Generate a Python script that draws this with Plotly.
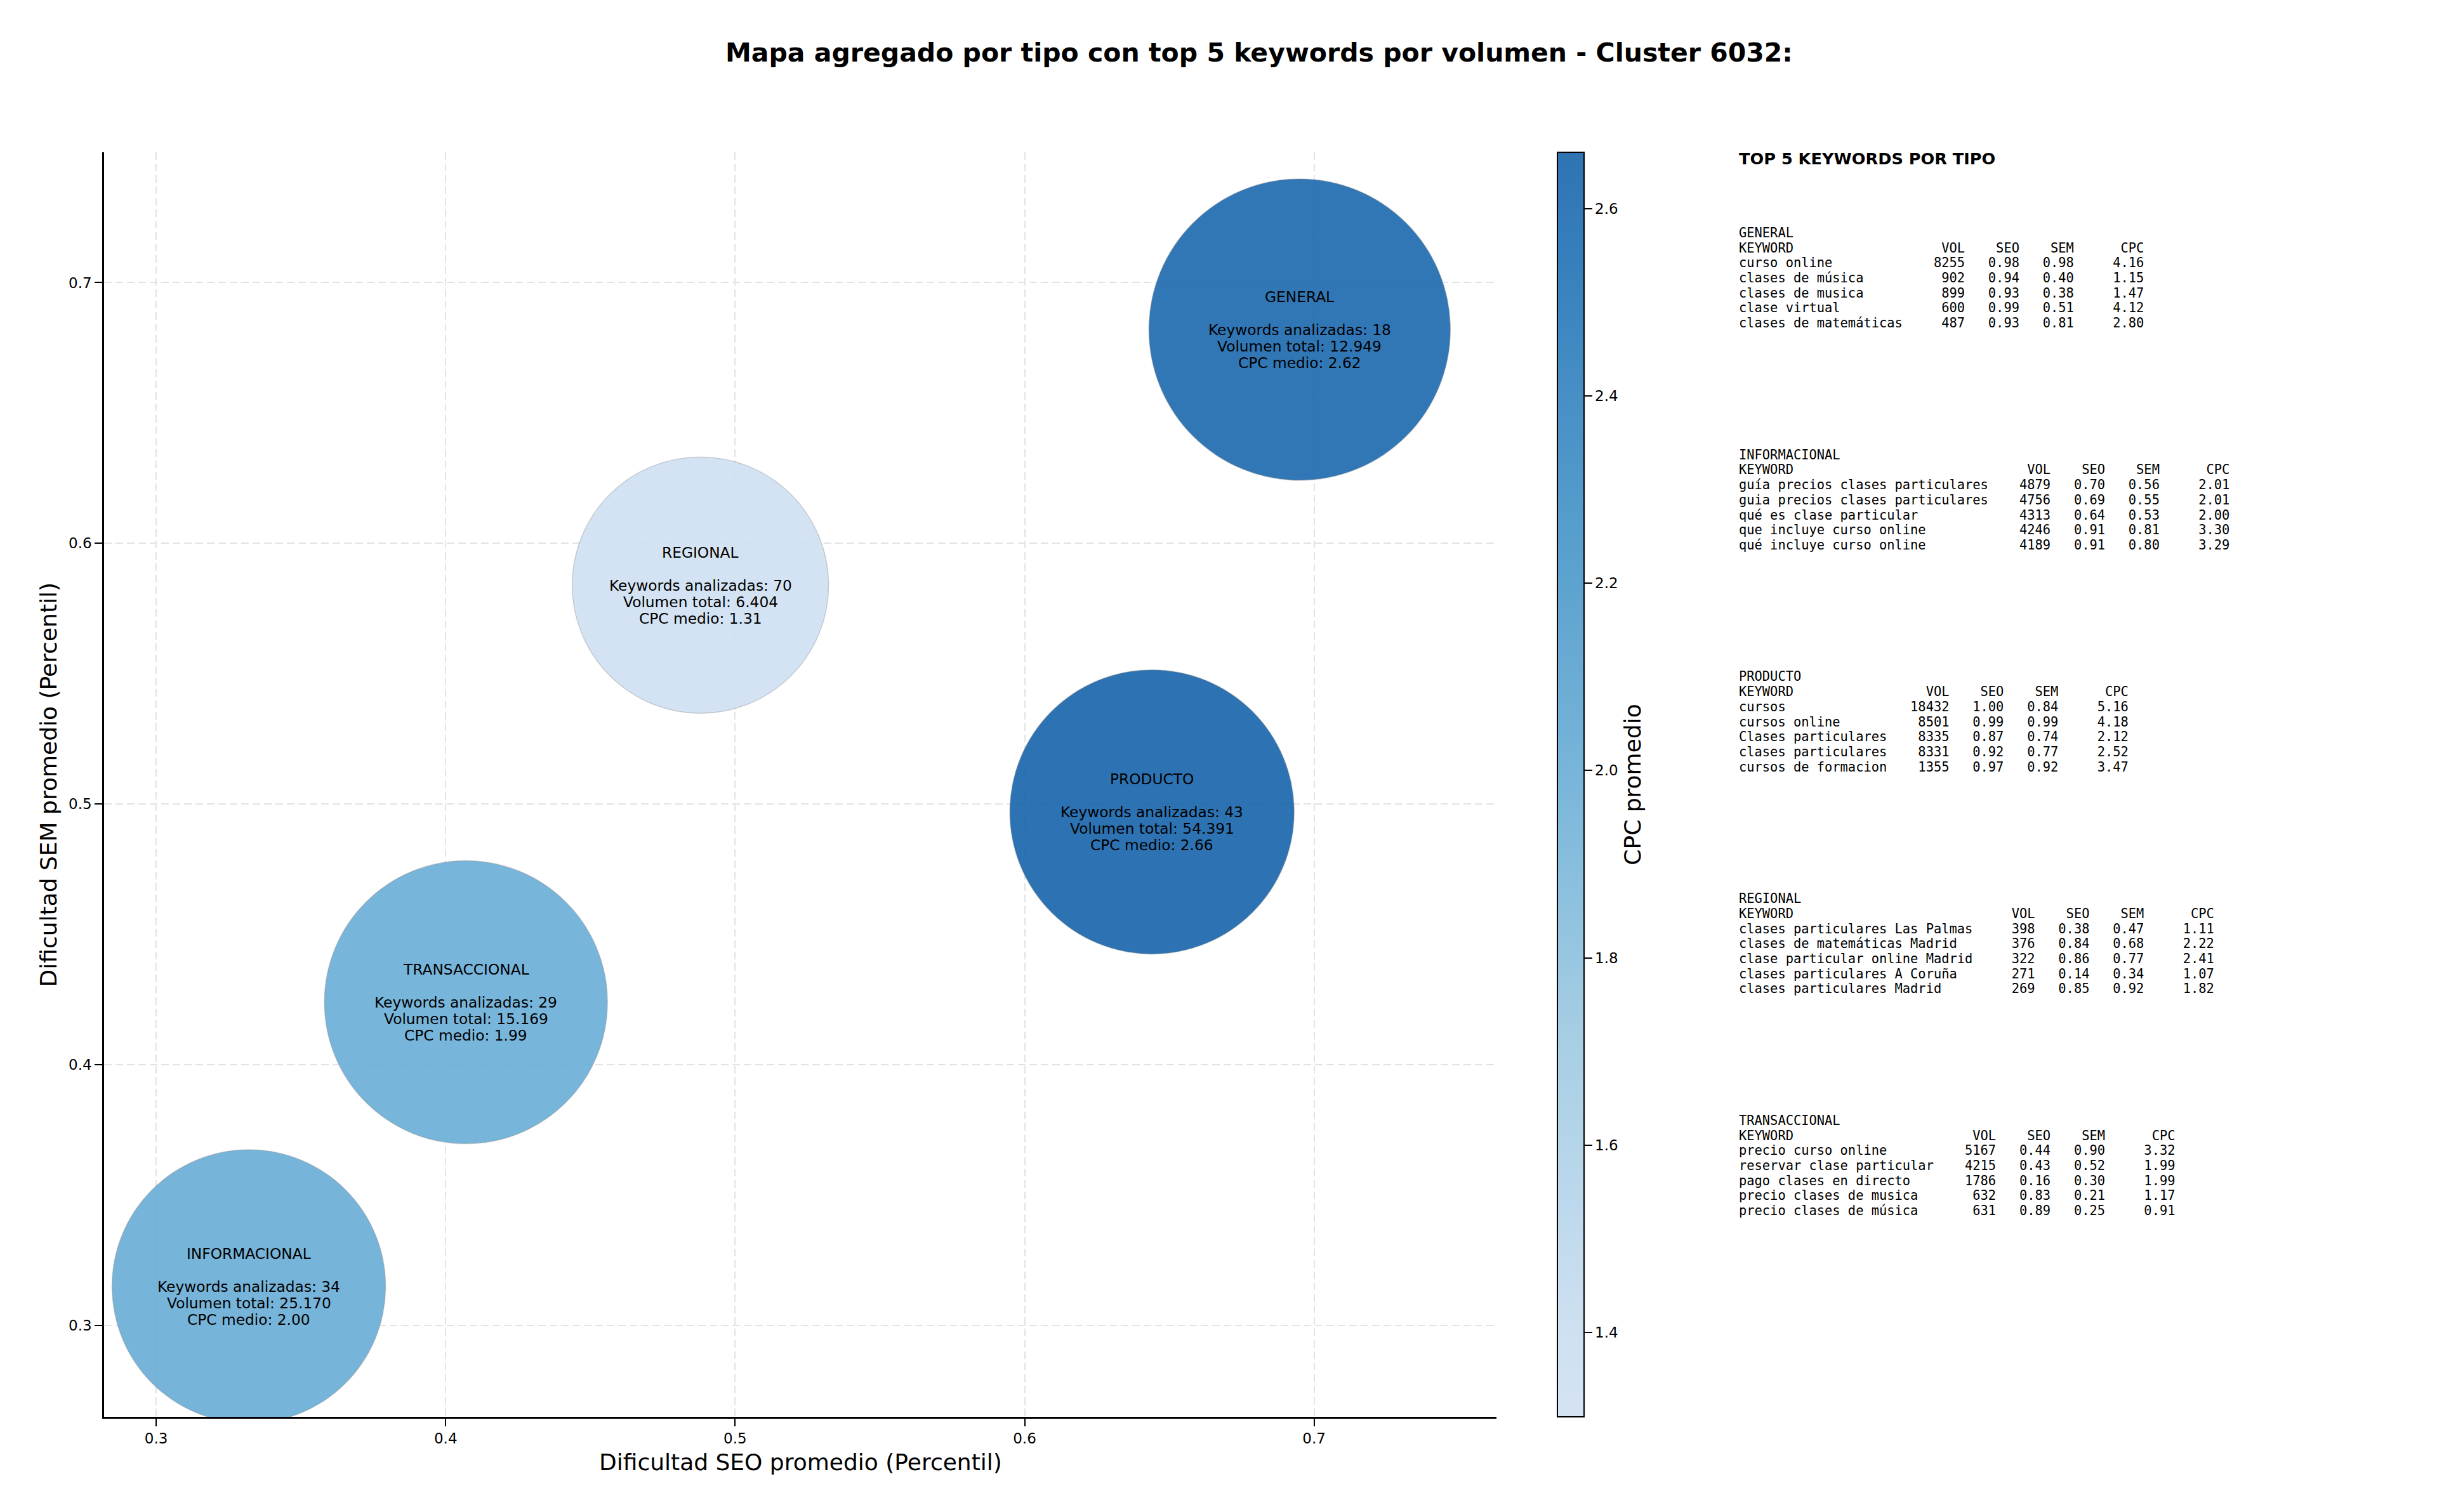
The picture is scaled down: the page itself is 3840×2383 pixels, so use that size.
import plotly.graph_objects as go

# ---------------- data ----------------
tipos = ["GENERAL", "INFORMACIONAL", "PRODUCTO", "REGIONAL", "TRANSACCIONAL"]
seo_promedio = [0.695, 0.332, 0.644, 0.488, 0.407]
sem_promedio = [0.682, 0.315, 0.497, 0.584, 0.424]
keywords_analizadas = [18, 34, 43, 70, 29]
volumen_total = [12949, 25170, 54391, 6404, 15169]
cpc_medio = [2.62, 2.00, 2.66, 1.31, 1.99]

cb_ticks = [1.4, 1.6, 1.8, 2.0, 2.2, 2.4, 2.6]
x_ticks = [0.3, 0.4, 0.5, 0.6, 0.7]
y_ticks = [0.3, 0.4, 0.5, 0.6, 0.7]

top_general = [
    ("curso online", 8255, 0.98, 0.98, 4.16),
    ("clases de música", 902, 0.94, 0.40, 1.15),
    ("clases de musica", 899, 0.93, 0.38, 1.47),
    ("clase virtual", 600, 0.99, 0.51, 4.12),
    ("clases de matemáticas", 487, 0.93, 0.81, 2.80),
]
top_informacional = [
    ("guía precios clases particulares", 4879, 0.70, 0.56, 2.01),
    ("guia precios clases particulares", 4756, 0.69, 0.55, 2.01),
    ("qué es clase particular", 4313, 0.64, 0.53, 2.00),
    ("que incluye curso online", 4246, 0.91, 0.81, 3.30),
    ("qué incluye curso online", 4189, 0.91, 0.80, 3.29),
]
top_producto = [
    ("cursos", 18432, 1.00, 0.84, 5.16),
    ("cursos online", 8501, 0.99, 0.99, 4.18),
    ("Clases particulares", 8335, 0.87, 0.74, 2.12),
    ("clases particulares", 8331, 0.92, 0.77, 2.52),
    ("cursos de formacion", 1355, 0.97, 0.92, 3.47),
]
top_regional = [
    ("clases particulares Las Palmas", 398, 0.38, 0.47, 1.11),
    ("clases de matemáticas Madrid", 376, 0.84, 0.68, 2.22),
    ("clase particular online Madrid", 322, 0.86, 0.77, 2.41),
    ("clases particulares A Coruña", 271, 0.14, 0.34, 1.07),
    ("clases particulares Madrid", 269, 0.85, 0.92, 1.82),
]
top_transaccional = [
    ("precio curso online", 5167, 0.44, 0.90, 3.32),
    ("reservar clase particular", 4215, 0.43, 0.52, 1.99),
    ("pago clases en directo", 1786, 0.16, 0.30, 1.99),
    ("precio clases de musica", 632, 0.83, 0.21, 1.17),
    ("precio clases de música", 631, 0.89, 0.25, 0.91),
]
top_por_tipo = [top_general, top_informacional, top_producto, top_regional, top_transaccional]

# ---------------- style ----------------
W, H = 3840, 2383
PL, PR, PT, PB = 164, 2358, 240, 2233   # plot area in px
bubble_diam = [475, 431, 448, 404, 446]
FONT = "DejaVu Sans"
MONO = "DejaVu Sans Mono"


def px2paper(px, py):
    return (px - PL) / (PR - PL), (PB - py) / (PB - PT)


BLUES = [(247, 251, 255), (222, 235, 247), (198, 219, 239), (158, 202, 225), (107, 174, 214),
         (66, 146, 198), (33, 113, 181), (8, 81, 156), (8, 48, 107)]


def blues(t):
    p = t * 8
    i = min(int(p), 7)
    f = p - i
    return [BLUES[i][k] + (BLUES[i + 1][k] - BLUES[i][k]) * f for k in range(3)]


def colorscale(alpha):
    out = []
    n = 24
    for j in range(n + 1):
        t = j / n
        c = blues(0.2 + 0.6 * t)
        c = [alpha * v + (1 - alpha) * 255 for v in c]
        out.append([t, "rgb(%d,%d,%d)" % tuple(round(v) for v in c)])
    return out


cmin, cmax = min(cpc_medio), max(cpc_medio)

fig = go.Figure()
fig.add_trace(go.Scatter(
    x=seo_promedio, y=sem_promedio, mode="markers",
    marker=dict(size=bubble_diam, color=cpc_medio, colorscale=colorscale(1.0),
                cmin=cmin, cmax=cmax, opacity=0.9, showscale=False,
                line=dict(width=1.5, color="rgba(120,120,120,0.35)")),
    showlegend=False, hoverinfo="skip", cliponaxis=True,
))
cbx, _ = px2paper(2454, 0)
fig.add_trace(go.Scatter(
    x=[seo_promedio[0]], y=[sem_promedio[0]], mode="markers",
    marker=dict(size=1, color=[cmin], colorscale=colorscale(0.9), cmin=cmin, cmax=cmax,
                opacity=0, showscale=True,
                colorbar=dict(
                    x=cbx, xanchor="left", y=0.5, yanchor="middle",
                    len=1, lenmode="fraction", thickness=42, thicknessmode="pixels",
                    xpad=0, ypad=0, outlinewidth=2, outlinecolor="black",
                    ticks="outside", ticklen=12, tickwidth=2, tickcolor="black",
                    tickvals=cb_ticks, tickformat=".1f",
                    tickfont=dict(family=FONT, size=23, color="black"),
                    title=dict(text="CPC promedio", side="right",
                               font=dict(family=FONT, size=36, color="black")),
                )),
    showlegend=False, hoverinfo="skip",
))

annotations = []

# bubble labels
LS = 26
for i, t in enumerate(tipos):
    lines = [
        (t, 2 * LS),
        ("Keywords analizadas: %d" % keywords_analizadas[i], 0),
        ("Volumen total: " + f"{volumen_total[i]:,}".replace(",", "."), -LS),
        ("CPC medio: %.2f" % cpc_medio[i], -2 * LS),
    ]
    for txt, ys in lines:
        annotations.append(dict(
            x=seo_promedio[i], y=sem_promedio[i], xref="x", yref="y",
            text=txt, showarrow=False, yshift=ys, xanchor="center", yanchor="middle",
            font=dict(family=FONT, size=23.3, color="black"),
        ))

# title
tx, ty = px2paper(1984, 83)
annotations.append(dict(
    x=tx, y=ty, xref="paper", yref="paper", showarrow=False,
    text="<b>Mapa agregado por tipo con top 5 keywords por volumen - Cluster 6032:</b>",
    xanchor="center", yanchor="middle", font=dict(family=FONT, size=41, color="black"),
))

# axis titles
ax, ay = px2paper((PL + PR) / 2, 2304)
annotations.append(dict(
    x=ax, y=ay, xref="paper", yref="paper", showarrow=False,
    text="Dificultad SEO promedio (Percentil)", xanchor="center", yanchor="middle",
    font=dict(family=FONT, size=36, color="black"),
))
ax, ay = px2paper(76, (PT + PB) / 2)
annotations.append(dict(
    x=ax, y=ay, xref="paper", yref="paper", showarrow=False, textangle=-90,
    text="Dificultad SEM promedio (Percentil)", xanchor="center", yanchor="middle",
    font=dict(family=FONT, size=36, color="black"),
))

# right panel
PX = 2738
px_, py_ = px2paper(PX, 250)
annotations.append(dict(
    x=px_, y=py_, xref="paper", yref="paper", showarrow=False,
    text="<b>TOP 5 KEYWORDS POR TIPO</b>", xanchor="left", yanchor="middle",
    font=dict(family=FONT, size=25.6, color="black"),
))
block_y0 = 367
block_step = 349.7
line_step = 23.7
for b, (t, rows) in enumerate(zip(tipos, top_por_tipo)):
    w = max(len(r[0]) for r in rows)
    lines = [t, f"{'KEYWORD':<{w}}{'VOL':>8}{'SEO':>7}{'SEM':>7}{'CPC':>9}"]
    for kw, vol, seo, sem, cpc in rows:
        lines.append(f"{kw:<{w}}{vol:>8}{seo:>7.2f}{sem:>7.2f}{cpc:>9.2f}")
    for k, ln in enumerate(lines):
        yy = block_y0 + b * block_step + k * line_step
        lx, ly = px2paper(PX, yy)
        annotations.append(dict(
            x=lx, y=ly, xref="paper", yref="paper", showarrow=False,
            text=ln.replace(" ", "\u00a0"), xanchor="left", yanchor="middle",
            font=dict(family=MONO, size=20.4, color="black"),
        ))

axis_common = dict(
    showgrid=True, gridcolor="#e3e3e3", gridwidth=1.5, griddash="12px,6px",
    zeroline=False, showline=True, linewidth=2.5, linecolor="black", mirror=False,
    ticks="outside", ticklen=12, tickwidth=2, tickcolor="black",
    tickfont=dict(family=FONT, size=23, color="black"), tickformat=".1f",
)

fig.update_layout(
    width=W, height=H, autosize=False,
    margin=dict(l=PL, r=W - PR, t=PT, b=H - PB, pad=0),
    paper_bgcolor="white", plot_bgcolor="white",
    xaxis=dict(range=[0.282, 0.763], tickvals=x_ticks, **axis_common),
    yaxis=dict(range=[0.265, 0.750], tickvals=y_ticks, **axis_common),
    annotations=annotations,
    font=dict(family=FONT, color="black"),
)

fig.write_html("out.html", config={"displayModeBar": False},
               post_script="document.body.style.margin='0px';")
